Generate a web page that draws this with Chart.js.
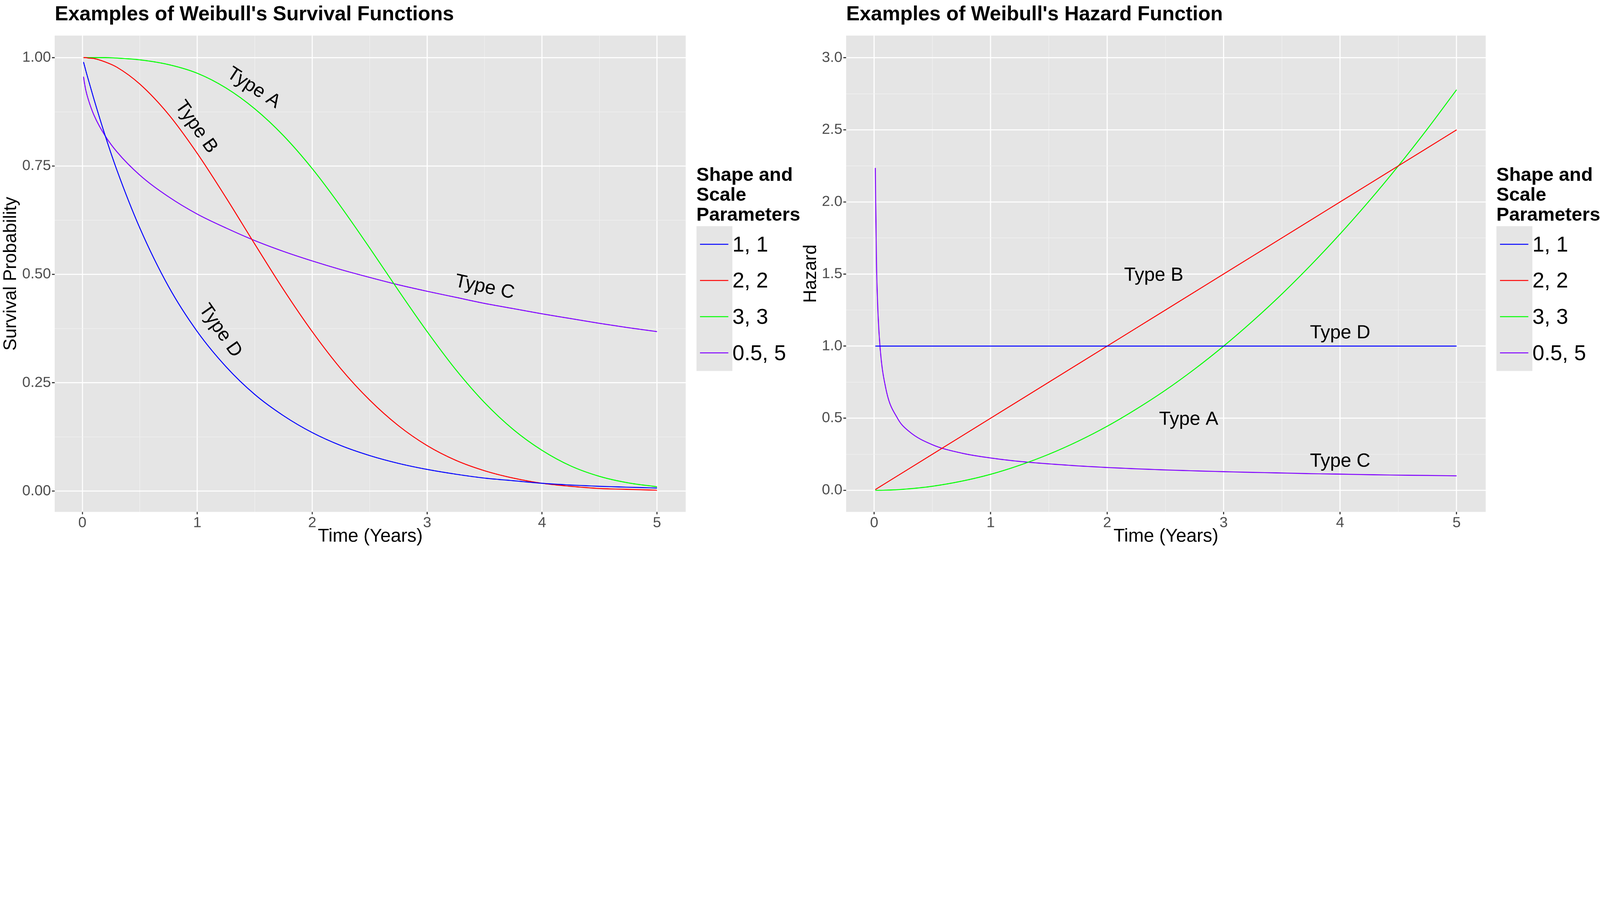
<!DOCTYPE html>
<html>
<head>
<meta charset="utf-8">
<script src="https://cdn.jsdelivr.net/npm/chart.js@4"></script>
<style>
  html, body { margin: 0; padding: 0; background: #fff; overflow: hidden; }
  #page { width: 6720px; height: 2304px; position: relative; transform-origin: 0 0; font-family: 'Liberation Sans Narrow', 'Liberation Sans', Arial, sans-serif; }
  .title { position: absolute; top: 8px; font-weight: bold; font-size: 85px; color: #000; white-space: nowrap; }
  .box { position: absolute; top: 108px; width: 2880px; height: 2196px; }
  .legend { position: absolute; top: 690px; }
  .legend h3 { margin: 0; font-size: 80px; line-height: 84px; font-weight: bold; }
  .legend ul { list-style: none; margin: 8px 0 0 0; padding: 0; background: #E5E5E5; width: 151px; }
  .legend li { position: relative; height: 152px; }
  .legend li span.k { position: absolute; left: 15px; top: 74px; width: 119px; height: 4px; }
  .legend li span.t { position: absolute; left: 151px; top: 30px; font-size: 90px; line-height: 90px; white-space: nowrap; }
</style>
</head>
<body>
<div id="page">
<div class="title" style="left:230px">Examples of Weibull's Survival Functions</div>
<div class="title" style="left:3554px">Examples of Weibull's Hazard Function</div>
<div class="box" style="left:0"><canvas id="survival"></canvas></div>
<div class="box" style="left:3360px"><canvas id="hazard"></canvas></div>
<div class="legend" id="legend1" style="left:2925px"></div>
<div class="legend" id="legend2" style="left:6285px"></div>
</div>
<script>
// fit the fixed 6720x2304 layout into whatever viewport we get
const fit = Math.min(window.innerWidth / 6720, window.innerHeight / 2304, 1);
if (fit < 1) document.getElementById('page').style.transform = 'scale(' + fit + ')';

// time points (years)
const times = [0.01, 0.02, 0.03, 0.05, 0.1, 0.2, 0.3, 0.5, 0.75, 1, 1.25, 1.5, 1.75, 2, 2.25, 2.5, 2.75, 3, 3.25, 3.5, 3.75, 4, 4.25, 4.5, 4.75, 5];
const seriesNames = ['1, 1', '2, 2', '3, 3', '0.5, 5'];
const seriesColors = ['#0000FF', '#FF0000', '#00FF00', '#8000FF'];

// survival probabilities
const survA11 = [0.990, 0.980, 0.970, 0.951, 0.905, 0.819, 0.741, 0.607, 0.472, 0.368, 0.287, 0.223, 0.174, 0.135, 0.105, 0.082, 0.064, 0.050, 0.039, 0.030, 0.024, 0.018, 0.014, 0.011, 0.009, 0.007];
const survB22 = [1.000, 1.000, 1.000, 0.999, 0.998, 0.990, 0.978, 0.939, 0.869, 0.779, 0.677, 0.570, 0.465, 0.368, 0.282, 0.210, 0.151, 0.105, 0.071, 0.047, 0.030, 0.018, 0.011, 0.006, 0.004, 0.002];
const survC33 = [1.000, 1.000, 1.000, 1.000, 1.000, 1.000, 0.999, 0.995, 0.984, 0.964, 0.930, 0.882, 0.820, 0.744, 0.656, 0.561, 0.463, 0.368, 0.280, 0.204, 0.142, 0.094, 0.058, 0.034, 0.019, 0.010];
const survD055 = [0.956, 0.939, 0.925, 0.905, 0.868, 0.819, 0.783, 0.729, 0.679, 0.639, 0.607, 0.578, 0.553, 0.531, 0.511, 0.493, 0.476, 0.461, 0.447, 0.433, 0.421, 0.409, 0.398, 0.387, 0.377, 0.368];

// hazard values
const hazA11 = [1, 1, 1, 1, 1, 1, 1, 1, 1, 1, 1, 1, 1, 1, 1, 1, 1, 1, 1, 1, 1, 1, 1, 1, 1, 1];
const hazB22 = [0.005, 0.010, 0.015, 0.025, 0.05, 0.10, 0.15, 0.25, 0.375, 0.50, 0.625, 0.75, 0.875, 1.00, 1.125, 1.25, 1.375, 1.50, 1.625, 1.75, 1.875, 2.00, 2.125, 2.25, 2.375, 2.50];
const hazC33 = [0.000, 0.000, 0.000, 0.000, 0.001, 0.004, 0.010, 0.028, 0.063, 0.111, 0.174, 0.250, 0.340, 0.444, 0.563, 0.694, 0.840, 1.000, 1.174, 1.361, 1.563, 1.778, 2.007, 2.250, 2.507, 2.778];
const hazD055 = [2.236, 1.581, 1.291, 1.000, 0.707, 0.500, 0.408, 0.316, 0.258, 0.224, 0.200, 0.183, 0.169, 0.158, 0.149, 0.141, 0.135, 0.129, 0.124, 0.120, 0.115, 0.112, 0.108, 0.105, 0.103, 0.100];

// ticks
const xTicks = [0, 0.5, 1, 1.5, 2, 2.5, 3, 3.5, 4, 4.5, 5];
const survTicks = [0, 0.125, 0.25, 0.375, 0.5, 0.625, 0.75, 0.875, 1];
const hazTicks = [0, 0.25, 0.5, 0.75, 1, 1.25, 1.5, 1.75, 2, 2.25, 2.5, 2.75, 3];

// text labels on the curves
const survNotes = [
  { text: 'Type A', x: 1.49, y: 0.93, angle: 33 },
  { text: 'Type B', x: 0.99, y: 0.84, angle: 55 },
  { text: 'Type C', x: 3.50, y: 0.47, angle: 12 },
  { text: 'Type D', x: 1.20, y: 0.37, angle: 55 }
];
const hazNotes = [
  { text: 'Type B', x: 2.40, y: 1.49, angle: 0 },
  { text: 'Type D', x: 4.00, y: 1.09, angle: 0 },
  { text: 'Type A', x: 2.70, y: 0.49, angle: 0 },
  { text: 'Type C', x: 4.00, y: 0.20, angle: 0 }
];

const narrow = "'Liberation Sans Narrow', 'Liberation Sans', Arial, sans-serif";

const panelBg = {
  id: 'panelBg',
  beforeDraw(chart) {
    const a = chart.chartArea, c = chart.ctx;
    c.save();
    c.fillStyle = '#E5E5E5';
    c.fillRect(a.left, a.top, a.right - a.left, a.bottom - a.top);
    c.restore();
  }
};

const notes = {
  id: 'notes',
  afterDatasetsDraw(chart, args, opts) {
    const c = chart.ctx;
    c.save();
    c.font = '80px ' + narrow;
    c.fillStyle = '#000';
    c.textAlign = 'center';
    c.textBaseline = 'middle';
    opts.items.forEach(n => {
      c.save();
      c.translate(chart.scales.x.getPixelForValue(n.x), chart.scales.y.getPixelForValue(n.y));
      c.rotate(n.angle * Math.PI / 180);
      c.fillText(n.text, 0, 0);
      c.restore();
    });
    c.restore();
  }
};

function isMajor(v, step) {
  return Math.abs(v / step - Math.round(v / step)) < 1e-6;
}

function makeChart(id, seriesList, yTicks, yMin, yMax, yStep, yDigits, yTitle, yWidth, noteItems) {
  const datasets = seriesList.map((vals, i) => ({
    label: seriesNames[i],
    data: times.map((t, j) => ({ x: t, y: vals[j] })),
    borderColor: seriesColors[i],
    borderWidth: 4,
    pointRadius: 0,
    fill: false,
    cubicInterpolationMode: 'monotone'
  }));
  return new Chart(document.getElementById(id), {
    type: 'line',
    data: { datasets },
    plugins: [panelBg, notes],
    options: {
      responsive: false,
      animation: false,
      devicePixelRatio: 1,
      layout: { padding: 0 },
      plugins: {
        legend: { display: false },
        tooltip: { enabled: false },
        notes: { items: noteItems }
      },
      scales: {
        x: {
          type: 'linear',
          min: -0.24,
          max: 5.25,
          afterBuildTicks: s => { s.ticks = xTicks.map(v => ({ value: v })); },
          afterFit: s => { s.height = 154; },
          border: { display: false },
          grid: {
            color: ctx => isMajor(ctx.tick.value, 1) ? '#FFFFFF' : '#F2F2F2',
            lineWidth: ctx => isMajor(ctx.tick.value, 1) ? 4.5 : 2,
            tickColor: ctx => isMajor(ctx.tick.value, 1) ? '#333333' : 'rgba(0,0,0,0)',
            tickLength: 10
          },
          ticks: {
            autoSkip: false,
            maxRotation: 0,
            padding: 0,
            color: '#4D4D4D',
            font: { family: narrow, size: 62 },
            callback: v => isMajor(v, 1) ? String(v) : ''
          },
          title: {
            display: true,
            text: 'Time (Years)',
            color: '#000',
            font: { family: narrow, size: 78 },
            padding: { top: 0, bottom: 4 }
          }
        },
        y: {
          min: yMin,
          max: yMax,
          afterBuildTicks: s => { s.ticks = yTicks.map(v => ({ value: v })); },
          afterFit: s => { s.width = yWidth; },
          border: { display: false },
          grid: {
            color: ctx => isMajor(ctx.tick.value, yStep) ? '#FFFFFF' : '#F2F2F2',
            lineWidth: ctx => isMajor(ctx.tick.value, yStep) ? 4.5 : 2,
            tickColor: ctx => isMajor(ctx.tick.value, yStep) ? '#333333' : 'rgba(0,0,0,0)',
            tickLength: 12
          },
          ticks: {
            autoSkip: false,
            padding: 4,
            color: '#4D4D4D',
            font: { family: narrow, size: 62 },
            callback: v => isMajor(v, yStep) ? v.toFixed(yDigits) : ''
          },
          title: {
            display: true,
            text: yTitle,
            color: '#000',
            font: { family: "'Liberation Sans', Arial, sans-serif", size: 76 },
            padding: { top: 0, bottom: 0 }
          }
        }
      }
    }
  });
}

['survival', 'hazard'].forEach(id => {
  const cv = document.getElementById(id);
  cv.width = 2880; cv.height = 2196;
  cv.style.width = '2880px'; cv.style.height = '2196px';
});

makeChart('survival', [survA11, survB22, survC33, survD055], survTicks, -0.048, 1.051, 0.25, 2, 'Survival Probability', 230, survNotes);
makeChart('hazard', [hazA11, hazB22, hazC33, hazD055], hazTicks, -0.15, 3.154, 0.5, 1, 'Hazard', 194, hazNotes);

function buildLegend(id) {
  const items = seriesNames.map((name, i) =>
    `<li><span class="k" style="background:${seriesColors[i]}"></span><span class="t">${name}</span></li>`);
  document.getElementById(id).innerHTML =
    `<h3>Shape and<br>Scale<br>Parameters</h3><ul>${items.join('')}</ul>`;
}
buildLegend('legend1');
buildLegend('legend2');
</script>
</body>
</html>
